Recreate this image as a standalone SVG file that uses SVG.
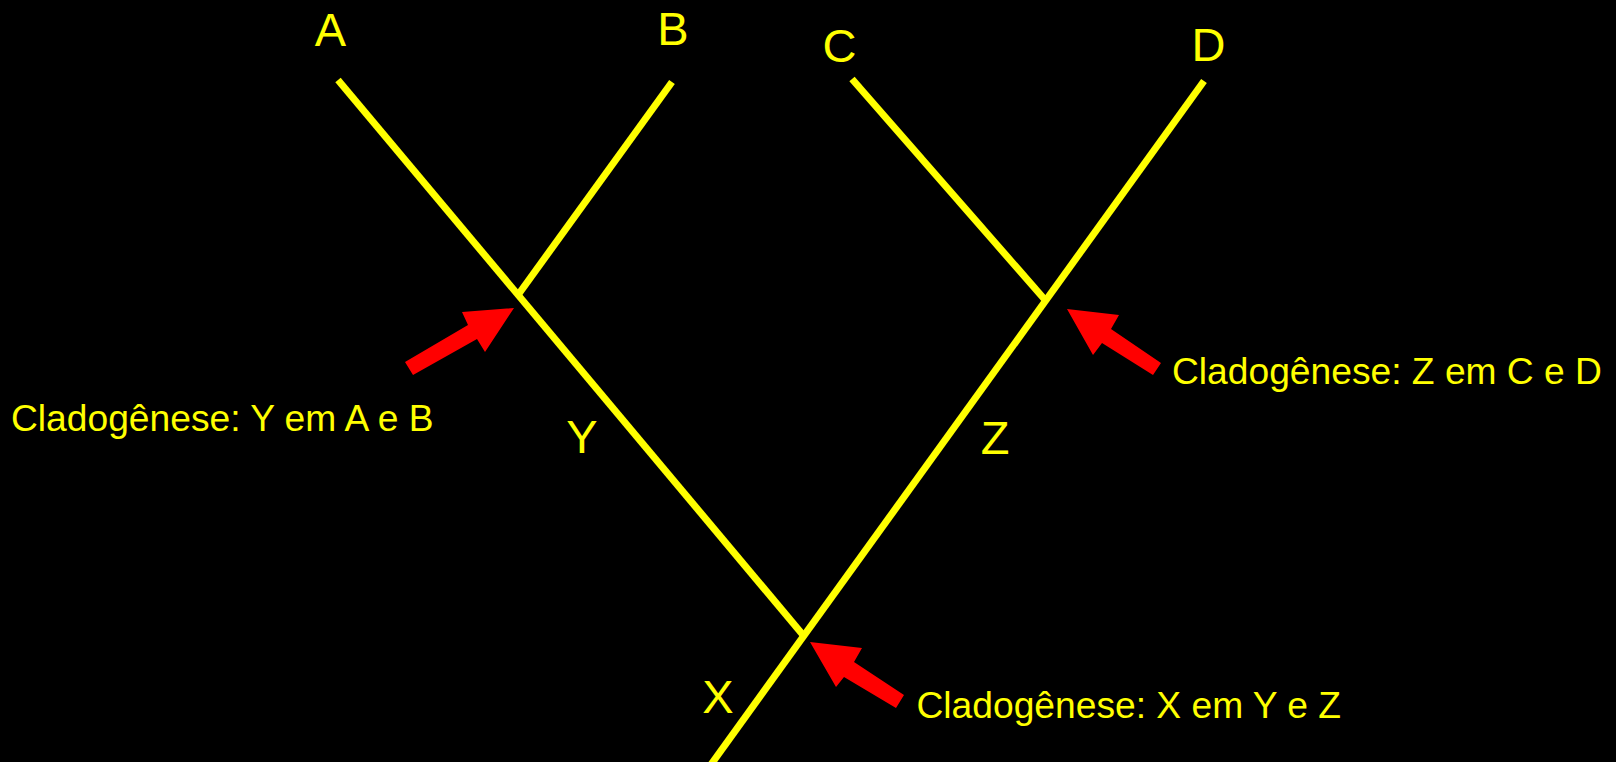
<svg xmlns="http://www.w3.org/2000/svg" width="1616" height="762" viewBox="0 0 1616 762">
<style>
.branch{stroke:#ffff00;stroke-width:7;fill:none;stroke-linecap:butt}
.arrow{fill:#ff0000;stroke:none}
.lbl{font-family:"Liberation Sans",Arial,sans-serif;font-size:47px;fill:#ffff00;text-anchor:middle}
.note{font-family:"Liberation Sans",Arial,sans-serif;font-size:37.2px;fill:#ffff00}
</style>
<rect x="0" y="0" width="1616" height="762" fill="#000000"/>
<g id="connectors">
<line class="branch" x1="338" y1="80" x2="803" y2="635"/>
<line class="branch" x1="672" y1="82" x2="518" y2="295"/>
<line class="branch" x1="852" y1="79" x2="1046" y2="301"/>
<line class="branch" x1="1204" y1="81" x2="702" y2="777"/>
</g>
<g id="node-A"><text class="lbl" x="330.5" y="46">A</text></g>
<g id="node-B"><text class="lbl" x="673" y="45">B</text></g>
<g id="node-C"><text class="lbl" x="839.5" y="61.5">C</text></g>
<g id="node-D"><text class="lbl" x="1208.5" y="61">D</text></g>
<g id="node-Y"><text class="lbl" x="582" y="453">Y</text></g>
<g id="node-Z"><text class="lbl" x="995" y="454">Z</text></g>
<g id="node-X"><text class="lbl" x="718" y="713">X</text></g>
<g id="arrow-Y">
<polygon class="arrow" points="514,308 462,312 468,325 405,362 413,375 477,339 485,352"/>
<text class="note" x="11" y="431">Cladogênese: Y em A e B</text>
</g>
<g id="arrow-Z">
<polygon class="arrow" points="1067,309 1119,315 1111,329 1161,363 1153,375 1102,343 1093,355"/>
<text class="note" x="1172" y="384">Cladogênese: Z em C e D</text>
</g>
<g id="arrow-X">
<polygon class="arrow" points="810,642 862,648 854,662 904,695 896,708 844,677 836,687"/>
<text class="note" x="916.5" y="718">Cladogênese: X em Y e Z</text>
</g>
</svg>
